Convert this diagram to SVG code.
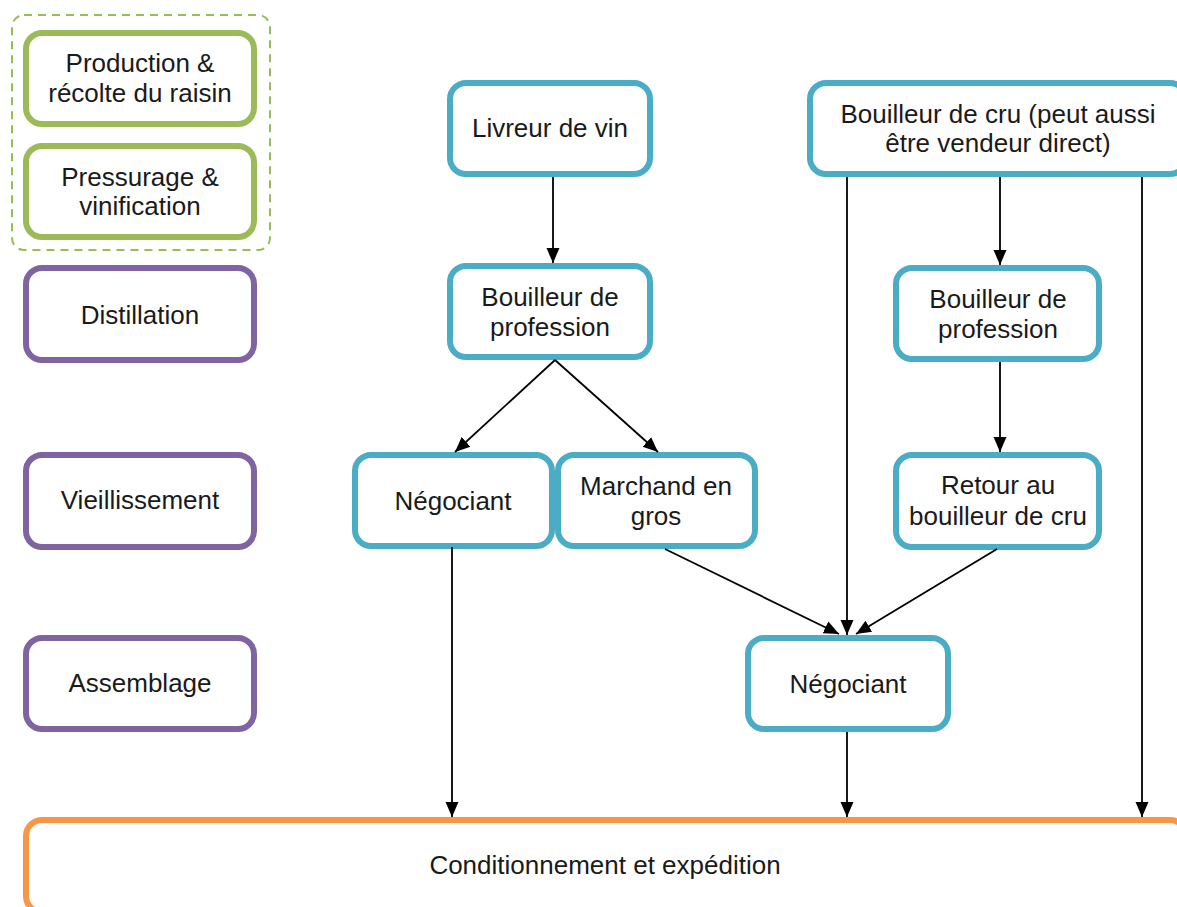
<svg xmlns="http://www.w3.org/2000/svg" width="1177" height="907" viewBox="0 0 1177 907">
<defs>
<style>
.box{fill:#fff;stroke-width:6}
.g{stroke:#9BBB59}
.p{stroke:#8064A2}
.b{stroke:#4BACC6}
.o{stroke:#F79646}
text{font-family:"Liberation Sans",Arial,sans-serif;font-size:26px;fill:#1a1a1a;text-anchor:middle}
.c line{stroke:#000;stroke-width:1.8;marker-end:url(#ah)}
</style>
<marker id="ah" markerUnits="userSpaceOnUse" markerWidth="15" markerHeight="15" viewBox="0 0 15 15" refX="15" refY="7.5" orient="auto">
<path d="M0,1 L15,7.5 L0,14 Z" fill="#000"/>
</marker>
</defs>
<rect width="1177" height="907" fill="#fff"/>
<rect id="group-dashed" x="12" y="15" width="258" height="235" rx="12" fill="none" stroke="#9BBB59" stroke-width="2" stroke-dasharray="8,6"/>
<g id="production"><rect class="box g" x="26" y="33" width="228" height="91" rx="16"/><text x="140" y="72">Production &amp;</text><text x="140" y="102">récolte du raisin</text></g>
<g id="pressurage"><rect class="box g" x="26" y="146" width="228" height="91" rx="16"/><text x="140" y="186">Pressurage &amp;</text><text x="140" y="215">vinification</text></g>
<g id="distillation"><rect class="box p" x="26" y="268" width="228" height="92" rx="16"/><text x="140" y="324">Distillation</text></g>
<g id="vieillissement"><rect class="box p" x="26" y="455" width="228" height="92" rx="16"/><text x="140" y="509">Vieillissement</text></g>
<g id="assemblage"><rect class="box p" x="26" y="638" width="228" height="91" rx="16"/><text x="140" y="692">Assemblage</text></g>
<g id="conditionnement"><rect class="box o" x="26" y="820" width="1160" height="92" rx="16"/><text x="605" y="874">Conditionnement et expédition</text></g>
<g id="livreur"><rect class="box b" x="450" y="83" width="200" height="91" rx="16"/><text x="550" y="137">Livreur de vin</text></g>
<g id="bouilleur-prof-l"><rect class="box b" x="450" y="266" width="200" height="91" rx="16"/><text x="550" y="306">Bouilleur de</text><text x="550" y="336">profession</text></g>
<g id="bouilleur-cru"><rect class="box b" x="810" y="83" width="376" height="91" rx="16"/><text x="998" y="123">Bouilleur de cru (peut aussi</text><text x="998" y="152">être vendeur direct)</text></g>
<g id="bouilleur-prof-r"><rect class="box b" x="896" y="268" width="203" height="91" rx="16"/><text x="998" y="308">Bouilleur de</text><text x="998" y="338">profession</text></g>
<g id="retour"><rect class="box b" x="896" y="455" width="203" height="92" rx="16"/><text x="998" y="494">Retour au</text><text x="998" y="525">bouilleur de cru</text></g>
<g id="negociant-l"><rect class="box b" x="355" y="455" width="197" height="91" rx="16"/><text x="453" y="510">Négociant</text></g>
<g id="marchand"><rect class="box b" x="558" y="455" width="197" height="91" rx="16"/><text x="656" y="495">Marchand en</text><text x="656" y="525">gros</text></g>
<g id="negociant-b"><rect class="box b" x="748" y="638" width="200" height="91" rx="16"/><text x="848" y="693">Négociant</text></g>
<g id="connectors" class="c">
<line x1="553" y1="177" x2="553" y2="263"/>
<line x1="555" y1="360" x2="455" y2="452"/>
<line x1="555" y1="360" x2="658" y2="452"/>
<line x1="452" y1="547" x2="452" y2="817"/>
<line x1="665" y1="549" x2="839" y2="634"/>
<line x1="997" y1="549" x2="856" y2="634"/>
<line x1="847" y1="177" x2="847" y2="635"/>
<line x1="1000" y1="177" x2="1000" y2="265"/>
<line x1="1142" y1="177" x2="1142" y2="817"/>
<line x1="1000" y1="362" x2="1000" y2="452"/>
<line x1="847" y1="732" x2="847" y2="817"/>
</g>
</svg>
